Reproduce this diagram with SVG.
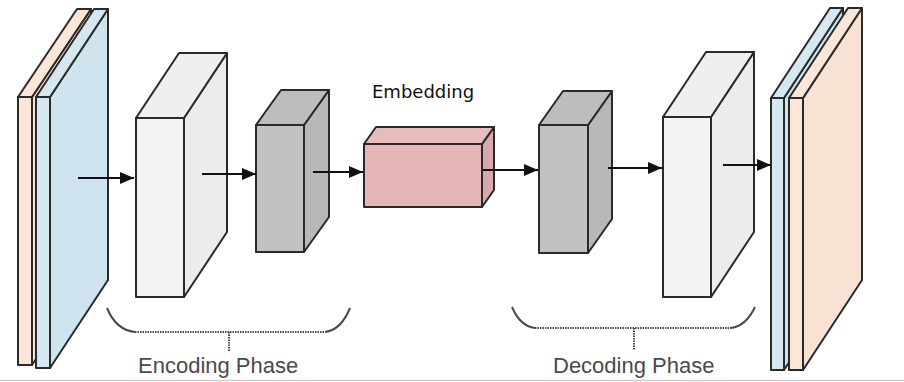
<svg xmlns="http://www.w3.org/2000/svg" width="904" height="382" viewBox="0 0 904 382">
<defs>
<style>
.edge{stroke:#2a2a2a;stroke-width:2;stroke-linejoin:round}
.blue{fill:#d5e8f1}.blueS{fill:#cfe4ee}
.pink{fill:#fbe6d8}.pinkS{fill:#f8e2d3}
.wF{fill:#f3f3f3}.wS{fill:#ececec}.wT{fill:#efefef}
.gF{fill:#c2c2c2}.gS{fill:#b8b8b8}.gT{fill:#bdbdbd}
.eF{fill:#e5b6b6}.eS{fill:#d9a8a8}.eT{fill:#e8bcbc}
.arrow{stroke:#111;stroke-width:2.2;fill:none}
.brace{stroke:#4a4a4a;stroke-width:2;fill:none}
.dot{stroke:#4a4a4a;stroke-width:2;fill:none;stroke-dasharray:1.5 1}
.phase{font-family:"Liberation Sans",Arial,sans-serif;font-size:22px;fill:#4a4a4a}
.lbl{font-family:"DejaVu Sans",sans-serif;font-size:18px;fill:#111}
</style>
<marker id="ah" markerUnits="userSpaceOnUse" markerWidth="16" markerHeight="14" refX="14" refY="6" orient="auto">
<path d="M0,0 L14,6 L0,12 z" fill="#111"/>
</marker>
</defs>
<rect width="904" height="382" fill="#ffffff"/>
<line x1="0" y1="380.5" x2="904" y2="380.5" stroke="#cfcfcf" stroke-width="1.5"/>

<g id="input">
<polygon class="pinkS edge" points="32,97 91,9 91,277 32,365"/>
<polygon class="pink edge" points="18,97 77,9 91,9 32,97"/>
<rect class="pink edge" x="18" y="97" width="14" height="268"/>
<polygon class="blueS edge" points="50,97 108,9 108,280 50,368"/>
<polygon class="blue edge" points="36,97 94,9 108,9 50,97"/>
<rect class="blue edge" x="36" y="97" width="14" height="271"/>
</g>

<g id="enc1">
<polygon class="wS edge" points="184,118 227,53 227,232 184,297"/>
<polygon class="wT edge" points="136,118 179,53 227,53 184,118"/>
<rect class="wF edge" x="136" y="118" width="48" height="179"/>
</g>

<g id="enc2">
<polygon class="gS edge" points="304,125 329,90 329,217 304,252"/>
<polygon class="gT edge" points="256,125 281,90 329,90 304,125"/>
<rect class="gF edge" x="256" y="125" width="48" height="127"/>
</g>

<g id="embedding">
<polygon class="eS edge" points="482,144 494,127 494,190 482,207"/>
<polygon class="eT edge" points="364,144 376,127 494,127 482,144"/>
<rect class="eF edge" x="364" y="144" width="118" height="63"/>
<text class="lbl" x="372" y="98">Embedding</text>
</g>

<g id="dec1">
<polygon class="gS edge" points="588,125 612,91 612,219 588,253"/>
<polygon class="gT edge" points="539,125 563,91 612,91 588,125"/>
<rect class="gF edge" x="539" y="125" width="49" height="128"/>
</g>

<g id="dec2">
<polygon class="wS edge" points="711,117 754,52 754,232 711,297"/>
<polygon class="wT edge" points="663,117 706,52 754,52 711,117"/>
<rect class="wF edge" x="663" y="117" width="48" height="180"/>
</g>

<g id="output">
<polygon class="blueS edge" points="784,98 843,8 843,280 784,370"/>
<polygon class="blue edge" points="771,98 830,8 843,8 784,98"/>
<rect class="blue edge" x="771" y="98" width="13" height="272"/>
<polygon class="pinkS edge" points="803,98 862,8 862,280 803,370"/>
<polygon class="pink edge" points="789,98 848,8 862,8 803,98"/>
<rect class="pink edge" x="789" y="98" width="14" height="272"/>
</g>

<g id="connectors">
<line class="arrow" x1="78" y1="178" x2="134" y2="178" marker-end="url(#ah)"/>
<line class="arrow" x1="202" y1="174" x2="256" y2="174" marker-end="url(#ah)"/>
<line class="arrow" x1="313" y1="172" x2="363" y2="172" marker-end="url(#ah)"/>
<line class="arrow" x1="483" y1="170" x2="538" y2="170" marker-end="url(#ah)"/>
<line class="arrow" x1="608" y1="168" x2="662" y2="168" marker-end="url(#ah)"/>
<line class="arrow" x1="723" y1="165" x2="771" y2="165" marker-end="url(#ah)"/>
</g>

<g id="encoding-phase">
<path class="brace" d="M107,308 Q116,330 135,332"/>
<path class="brace" d="M350,308 Q341,330 325,332"/>
<line class="dot" x1="135" y1="332" x2="325" y2="332"/>
<line class="dot" x1="229" y1="332" x2="229" y2="351"/>
<text class="phase" x="138" y="373">Encoding Phase</text>
</g>

<g id="decoding-phase">
<path class="brace" d="M512,307 Q520,326 535,328"/>
<path class="brace" d="M755,307 Q746,326 731,328"/>
<line class="dot" x1="535" y1="328" x2="731" y2="328"/>
<line class="dot" x1="634" y1="328" x2="634" y2="350"/>
<text class="phase" x="553" y="373">Decoding Phase</text>
</g>
</svg>
